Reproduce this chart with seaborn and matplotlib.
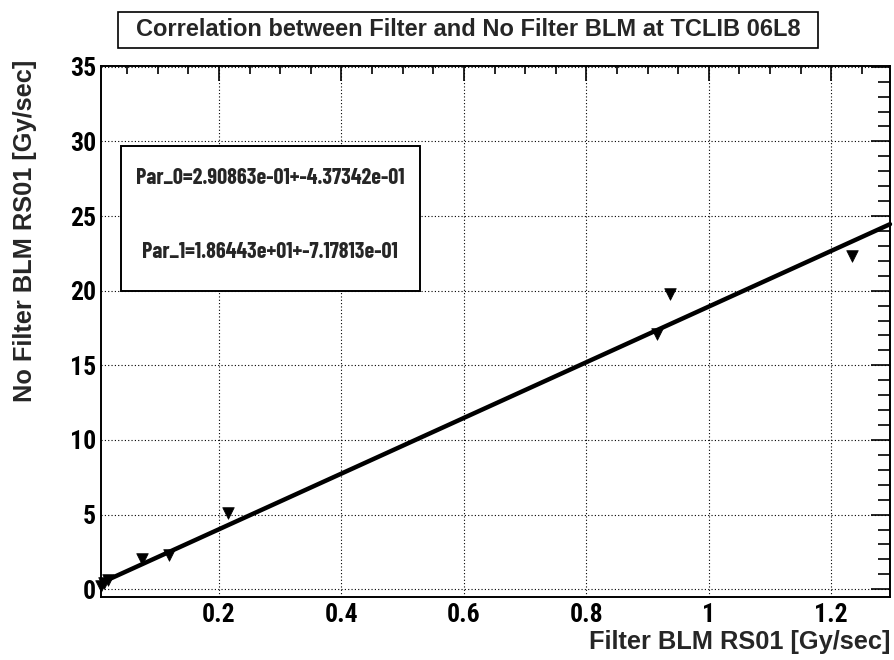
import matplotlib
matplotlib.use("Agg")
import matplotlib.pyplot as plt
from matplotlib.patches import Rectangle
from matplotlib.ticker import MultipleLocator
import numpy as np
import pandas as pd
import seaborn as sns

# Measured dose rates (Gy/sec)
filter_blm = [0.007, 0.012, 0.019, 0.074, 0.119, 0.215, 0.916, 0.937, 1.234]
no_filter_blm = [0.25, 0.45, 0.65, 2.03, 2.30, 5.10, 17.1, 19.8, 22.3]

# Linear fit result: y = Par_0 + Par_1 * x
par_0, par_0_err = 2.90863e-01, 4.37342e-01
par_1, par_1_err = 1.86443e+01, 7.17813e-01

title = "Correlation between Filter and No Filter BLM at TCLIB 06L8"
x_label = "Filter BLM RS01 [Gy/sec]"
y_label = "No Filter BLM RS01 [Gy/sec]"
x_range = (0.008, 1.296)
y_range = (-0.5, 35.05)

sns.set_theme(style="white")
condensed = ["Roboto Condensed", "Liberation Sans", "DejaVu Sans"]
narrow = ["Barlow Condensed", "Roboto Condensed", "Liberation Sans",
          "DejaVu Sans"]
regular = ["Liberation Sans", "DejaVu Sans"]
plt.rcParams["font.family"] = condensed
plt.rcParams["font.weight"] = "bold"

W, H = 895, 660
fig = plt.figure(figsize=(W / 100, H / 100), dpi=100)
ax = fig.add_axes([0.1134, 0.0959, 0.9944 - 0.1134, 0.9 - 0.0959])

points = pd.DataFrame({"x": filter_blm, "y": no_filter_blm})
fit_x = np.linspace(x_range[0], x_range[1], 200)
fit = pd.DataFrame({"x": fit_x, "y": par_0 + par_1 * fit_x})

sns.lineplot(data=fit, x="x", y="y", ax=ax, color="black", linewidth=3.2,
             zorder=3, clip_on=False)
sns.scatterplot(data=points, x="x", y="y", ax=ax, marker="v", s=70,
                color="black", edgecolor="black", linewidth=0.5, zorder=4,
                clip_on=False)

ax.set_xlim(*x_range)
ax.set_ylim(*y_range)

ax.xaxis.set_major_locator(MultipleLocator(0.2))
ax.xaxis.set_minor_locator(MultipleLocator(0.05))
ax.yaxis.set_major_locator(MultipleLocator(5))
ax.yaxis.set_minor_locator(MultipleLocator(1))
ax.xaxis.set_major_formatter(plt.FuncFormatter(lambda v, p: f"{v:g}"))

ax.tick_params(axis="both", which="both", direction="in", top=True,
               right=True, colors="black", width=1.2, labelsize=18.5)
ax.tick_params(axis="x", which="major", length=11, pad=4.5)
ax.tick_params(axis="x", which="minor", length=5.5)
ax.tick_params(axis="y", which="major", length=14, pad=4)
ax.tick_params(axis="y", which="minor", length=8.5)
for lab in ax.get_xticklabels() + ax.get_yticklabels():
    lab.set_fontweight("bold")

ax.grid(True, which="major", color="black", linestyle=(0, (1, 2)),
        linewidth=0.8)
for s in ax.spines.values():
    s.set_color("black")
    s.set_linewidth(1.4)

ax.set_xlabel("")
ax.set_ylabel("")
fig.text(0.9944, 1 - 642 / H, x_label, ha="right", va="center",
         fontsize=18.3, fontweight="bold", family=regular)
fig.text(25 / W, 1 - 60 / H, y_label, ha="center", va="top", rotation=90,
         fontsize=18.3, fontweight="bold", family=regular)

# Title pave
fig.add_artist(Rectangle((118 / W, 1 - 48 / H), (818 - 118) / W, 36 / H,
                         transform=fig.transFigure, facecolor="white",
                         edgecolor="black", linewidth=1.2))
fig.text(468 / W, 1 - 30 / H, title, ha="center", va="center",
         fontsize=17, fontweight="bold", family=regular)

# Fit statistics pave
fig.add_artist(Rectangle((121 / W, 1 - 291 / H), (420 - 121) / W,
                         (291 - 146) / H, transform=fig.transFigure,
                         facecolor="white", edgecolor="black",
                         linewidth=1.4, zorder=5))
fig.text(270 / W, 1 - 178 / H, f"Par_0={par_0:.5e}+-{par_0_err:.5e}",
         ha="center", va="center", fontsize=16, fontweight="bold",
         family=narrow, zorder=6)
fig.text(270 / W, 1 - 252 / H, f"Par_1={par_1:.5e}+-{par_1_err:.5e}",
         ha="center", va="center", fontsize=16, fontweight="bold",
         family=narrow, zorder=6)

fig.savefig("out.png", dpi=100)
